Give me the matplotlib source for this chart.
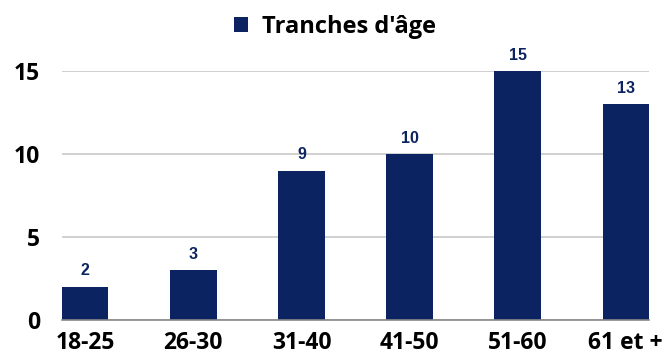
import numpy as np
import matplotlib.pyplot as plt

# données
categories = ['18-25', '26-30', '31-40', '41-50', '51-60', '61 et +']
values = [2, 3, 9, 10, 15, 13]
yticks = [0, 5, 10, 15]

navy = '#0B2360'

fig = plt.figure(figsize=(6.69, 3.61), dpi=100)
ax = fig.add_axes([62 / 669, 1 - 320 / 361, (649 - 62) / 669, (320 - 71) / 361])

x = np.arange(len(categories))
w = 0.43
bars = ax.bar(x, values, width=w, color=navy, zorder=3, label="Tranches d'âge")

for xi, v in zip(x, values):
    ax.annotate(str(v), (xi, v), xytext=(0, 6), textcoords='offset points',
                ha='center', va='bottom', fontsize=11.5, fontweight='heavy',
                color=navy, family='Liberation Sans', annotation_clip=False)

ax.set_xlim(-w / 2, len(categories) - 1 + w / 2)
ax.set_ylim(0, 15)
ax.set_yticks(yticks)
ax.set_xticks(x)
ax.set_xticklabels(categories)
ax.yaxis.grid(True, color='#C8C8C8', linewidth=1.2, zorder=0)
ax.tick_params(axis='both', length=0, labelsize=16.5, pad=8)
ax.tick_params(axis='y', pad=16)
for lab in ax.get_xticklabels() + ax.get_yticklabels():
    lab.set_fontweight('bold')
    lab.set_family('Open Sans')
for s in ['top', 'right', 'left']:
    ax.spines[s].set_visible(False)
ax.spines['bottom'].set_color('#888888')
ax.spines['bottom'].set_linewidth(1.2)
ax.spines['bottom'].set_zorder(4)

leg = fig.legend(handles=[bars], labels=["Tranches d'âge"], loc='center',
                 bbox_to_anchor=(335 / 669, 1 - 27 / 361), frameon=False,
                 handlelength=0.6, handleheight=0.6, handletextpad=0.6,
                 prop={'family': 'Open Sans', 'weight': 'bold', 'size': 17})

fig.savefig('out.png', dpi=100)
